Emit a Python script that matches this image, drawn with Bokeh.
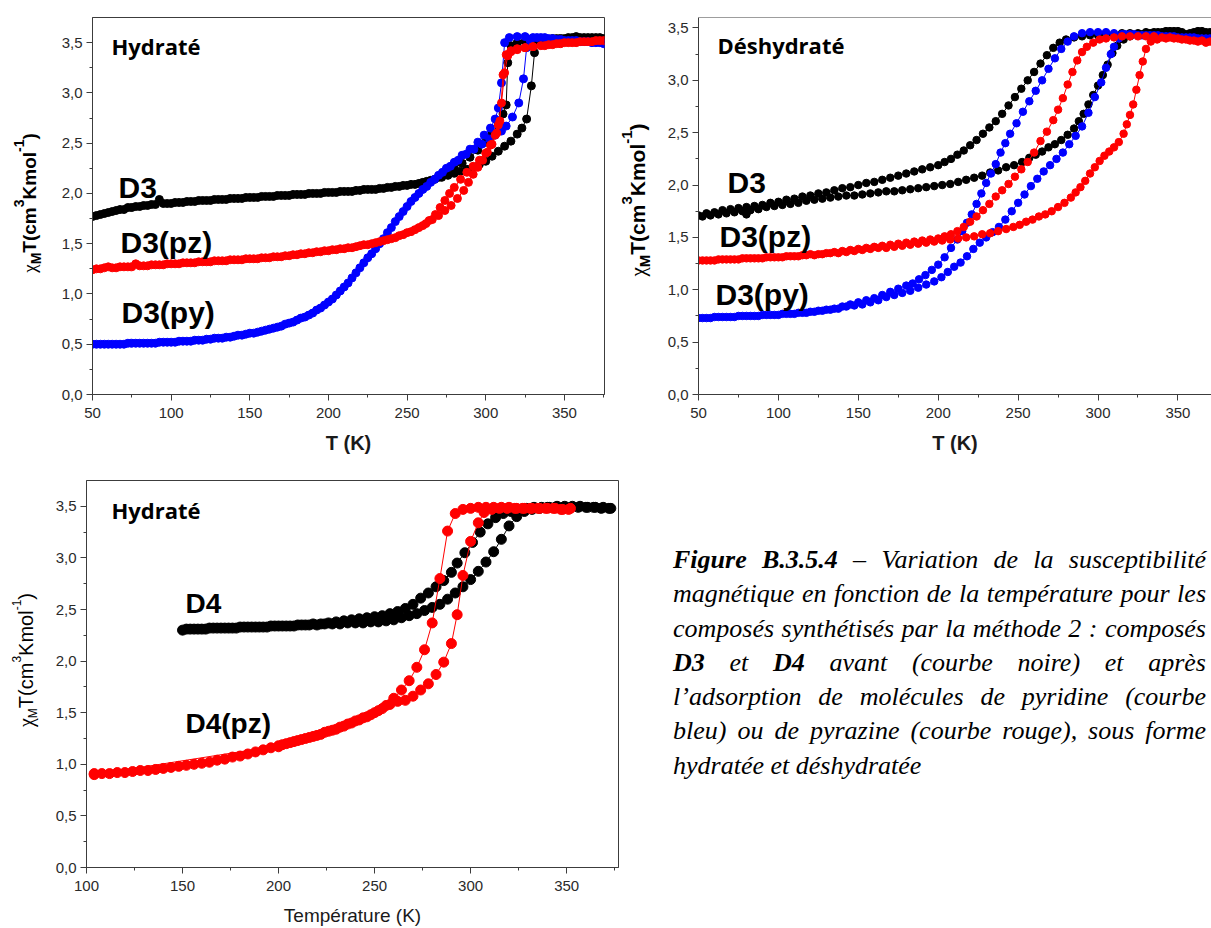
from bokeh.plotting import figure
from bokeh.models import Label, Span, FixedTicker, Div, Range1d
from bokeh.layouts import row, column
from bokeh.embed import file_html
from bokeh.resources import INLINE

# ---------------- data (T in K, chi_M T in cm3 K mol-1) ----------------
x_ticks_top = [50, 100, 150, 200, 250, 300, 350]
x_minor_top = [75, 125, 175, 225, 275, 325, 375]
x_ticks_bottom = [100, 150, 200, 250, 300, 350]
x_minor_bottom = [125, 175, 225, 275, 325, 375]
y_ticks = [0, 0.5, 1, 1.5, 2, 2.5, 3, 3.5]
y_tick_labels = ["0,0", "0,5", "1,0", "1,5", "2,0", "2,5", "3,0", "3,5"]
y_minor = [0.25, 0.75, 1.25, 1.75, 2.25, 2.75, 3.25]

# Panel 1 : D3 hydraté
hyd_black_cool = [(50,1.77),(55,1.79),(60,1.81),(65,1.83),(70,1.84),(75,1.86),(80,1.87),(85,1.88),(90,1.89),(95,1.90),
    (100,1.90),(105,1.91),(110,1.92),(115,1.92),(120,1.93),(125,1.93),(130,1.94),(135,1.94),(140,1.95),(145,1.95),
    (150,1.96),(155,1.96),(160,1.97),(165,1.97),(170,1.98),(175,1.98),(180,1.99),(185,1.99),(190,2.00),(195,2.00),
    (200,2.01),(205,2.01),(210,2.02),(215,2.02),(220,2.03),(225,2.04),(230,2.04),(235,2.05),(240,2.06),(245,2.07),
    (250,2.08),(255,2.09),(260,2.11),(265,2.13),(270,2.16),(275,2.20),(280,2.25),(285,2.30),(290,2.36),(295,2.43),
    (300,2.51),(304,2.59),(308,2.69),(311,2.79),(313,2.88),(314,3.30),(316,3.47),(320,3.50),(325,3.51),(330,3.52),
    (335,3.53),(340,3.53),(345,3.54),(350,3.54),(355,3.55),(360,3.55),(365,3.55),(370,3.55),(375,3.54)]
hyd_black_heat = [(52.5,1.78),(57.5,1.80),(62.5,1.82),(67.5,1.84),(72.5,1.86),(77.5,1.87),(82.5,1.88),(87.5,1.89),(92.5,1.94),(97.5,1.90),
    (102.5,1.91),(107.5,1.91),(112.5,1.92),(117.5,1.93),(122.5,1.93),(127.5,1.94),(132.5,1.94),(137.5,1.95),(142.5,1.95),(147.5,1.96),
    (152.5,1.96),(157.5,1.97),(162.5,1.97),(167.5,1.98),(172.5,1.98),(177.5,1.99),(182.5,1.99),(187.5,2.00),(192.5,2.00),(197.5,2.01),
    (202.5,2.01),(207.5,2.02),(212.5,2.02),(217.5,2.03),(222.5,2.04),(227.5,2.04),(232.5,2.05),(237.5,2.06),(242.5,2.07),(247.5,2.08),
    (252.5,2.09),(257.5,2.10),(262.5,2.12),(267.5,2.14),(272,2.16),(276,2.18),(280,2.20),(284,2.22),(288,2.24),(292,2.26),
    (296,2.29),(300,2.32),(304,2.37),(308,2.42),(312,2.47),(316,2.52),(320,2.59),(323,2.65),(326,2.74),(329,3.07),
    (331,3.40),(333,3.50),(337.5,3.53),(342.5,3.54),(347.5,3.54),(352.5,3.55),(357.5,3.56),(362.5,3.55),(367.5,3.55),(372.5,3.55)]
hyd_blue_cool = [(50,0.50),(55,0.50),(60,0.50),(65,0.50),(70,0.50),(75,0.51),(80,0.51),(85,0.51),(90,0.51),(95,0.52),
    (100,0.52),(105,0.53),(110,0.53),(115,0.54),(120,0.54),(125,0.55),(130,0.56),(135,0.57),(140,0.58),(145,0.59),
    (150,0.61),(155,0.62),(160,0.64),(165,0.66),(170,0.68),(175,0.71),(180,0.74),(185,0.77),(190,0.81),(195,0.86),
    (200,0.92),(205,0.99),(210,1.07),(215,1.16),(220,1.26),(225,1.36),(230,1.45),(235,1.55),(240,1.66),(245,1.77),
    (250,1.87),(255,1.96),(260,2.04),(265,2.11),(270,2.18),(275,2.25),(280,2.31),(285,2.38),(290,2.44),(295,2.51),
    (299,2.58),(303,2.65),(306,2.74),(308,2.85),(310,3.10),(312,3.50),(315,3.55),(320,3.56),(325,3.56),(330,3.55),
    (335,3.55),(340,3.54),(345,3.53),(350,3.52),(355,3.52),(360,3.51),(365,3.51),(370,3.50),(375,3.49)]
hyd_blue_heat = [(52.5,0.50),(57.5,0.50),(62.5,0.50),(67.5,0.50),(72.5,0.51),(77.5,0.51),(82.5,0.51),(87.5,0.51),(92.5,0.52),(97.5,0.52),
    (102.5,0.52),(107.5,0.53),(112.5,0.53),(117.5,0.54),(122.5,0.55),(127.5,0.56),(132.5,0.56),(137.5,0.57),(142.5,0.59),(147.5,0.60),
    (152.5,0.61),(157.5,0.63),(162.5,0.65),(167.5,0.67),(172.5,0.70),(177.5,0.72),(182.5,0.76),(187.5,0.79),(192.5,0.84),(197.5,0.89),
    (202.5,0.95),(207.5,1.03),(212.5,1.11),(217.5,1.21),(222.5,1.31),(227.5,1.40),(232.5,1.50),(237.5,1.61),(242.5,1.72),(247.5,1.82),
    (252.5,1.92),(257.5,2.00),(262.5,2.07),(267.5,2.14),(272.5,2.21),(277.5,2.27),(282.5,2.33),(287.5,2.39),(292.5,2.44),(297.5,2.49),
    (302.5,2.54),(306,2.58),(310,2.62),(313,2.67),(317,2.76),(321,2.90),(324,3.14),(326,3.45),(328,3.53),(332.5,3.55),
    (337.5,3.55),(342.5,3.54),(347.5,3.53),(352.5,3.52),(357.5,3.52),(362.5,3.51),(367.5,3.50),(372.5,3.50)]
hyd_red_cool = [(50,1.24),(55,1.25),(60,1.27),(65,1.26),(70,1.27),(75,1.27),(80,1.28),(85,1.28),(90,1.29),(95,1.29),
    (100,1.30),(105,1.30),(110,1.31),(115,1.31),(120,1.32),(125,1.32),(130,1.33),(135,1.33),(140,1.34),(145,1.34),
    (150,1.35),(155,1.35),(160,1.36),(165,1.37),(170,1.37),(175,1.38),(180,1.39),(185,1.40),(190,1.41),(195,1.42),
    (200,1.43),(205,1.44),(210,1.45),(215,1.46),(220,1.48),(225,1.49),(230,1.51),(235,1.53),(240,1.55),(245,1.58),
    (250,1.61),(255,1.64),(260,1.68),(264,1.73),(268,1.79),(271,1.86),(274,1.93),(277,2.00),(280,2.06),(284,2.14),
    (288,2.21),(292,2.27),(296,2.33),(300,2.40),(303,2.48),(306,2.58),(308,2.68),(310,2.90),(312,3.20),(314,3.37),
    (316,3.41),(320,3.43),(325,3.45),(330,3.46),(335,3.47),(340,3.48),(345,3.49),(350,3.50),(355,3.50),(360,3.51),
    (365,3.51),(370,3.52),(375,3.52)]
hyd_red_heat = [(52.5,1.25),(57.5,1.26),(62.5,1.26),(67.5,1.27),(72.5,1.27),(77.5,1.30),(82.5,1.28),(87.5,1.29),(92.5,1.29),(97.5,1.30),
    (102.5,1.30),(107.5,1.31),(112.5,1.31),(117.5,1.32),(122.5,1.32),(127.5,1.33),(132.5,1.33),(137.5,1.34),(142.5,1.34),(147.5,1.35),
    (152.5,1.35),(157.5,1.36),(162.5,1.36),(167.5,1.37),(172.5,1.38),(177.5,1.39),(182.5,1.40),(187.5,1.41),(192.5,1.42),(197.5,1.43),
    (202.5,1.44),(207.5,1.45),(212.5,1.46),(217.5,1.47),(222.5,1.49),(227.5,1.50),(232.5,1.52),(237.5,1.54),(242.5,1.56),(247.5,1.59),
    (252.5,1.62),(257.5,1.66),(262,1.70),(266,1.74),(270,1.78),(274,1.83),(278,1.88),(282,1.95),(286,2.03),(289,2.11),
    (292,2.19),(295,2.26),(298,2.33),(301,2.41),(304,2.49),(307,2.60),(309,2.72),(311,3.18),(313,3.38),(316,3.42),
    (320,3.44),(325,3.45),(330,3.46),(337.5,3.47),(342.5,3.48),(347.5,3.49),(352.5,3.50),(357.5,3.50),(362.5,3.51),(367.5,3.51),
    (372.5,3.52)]

# Panel 2 : D3 déshydraté
deh_black_cool = [(50,1.71),(55,1.73),(60,1.74),(65,1.76),(70,1.77),(75,1.78),(80,1.79),(85,1.80),(90,1.81),(95,1.83),
    (100,1.84),(105,1.86),(110,1.87),(115,1.89),(120,1.90),(125,1.92),(130,1.93),(135,1.95),(140,1.97),(145,1.98),
    (150,2.00),(155,2.02),(160,2.03),(165,2.05),(170,2.07),(175,2.09),(180,2.11),(185,2.13),(190,2.15),(195,2.17),
    (200,2.19),(204,2.22),(208,2.25),(212,2.29),(216,2.33),(220,2.38),(224,2.43),(228,2.49),(232,2.55),(236,2.61),
    (240,2.68),(244,2.76),(248,2.84),(252,2.92),(256,3.00),(260,3.08),(264,3.16),(268,3.24),(272,3.31),(276,3.36),
    (280,3.39),(285,3.41),(290,3.42),(295,3.43),(300,3.43),(305,3.44),(310,3.44),(315,3.45),(320,3.45),(325,3.45),
    (330,3.46),(335,3.46),(340,3.46),(345,3.47),(350,3.47),(355,3.44),(360,3.46),(365,3.47),(370,3.46)]
deh_black_heat = [(52.5,1.70),(57.5,1.71),(62.5,1.72),(67.5,1.73),(72.5,1.74),(77.5,1.75),(80,1.72),(82.5,1.76),(87.5,1.77),(92.5,1.79),(97.5,1.80),
    (102.5,1.81),(107.5,1.82),(112.5,1.83),(117.5,1.85),(122.5,1.86),(127.5,1.87),(132.5,1.88),(137.5,1.89),(142.5,1.90),(147.5,1.90),
    (152.5,1.91),(157.5,1.92),(162.5,1.93),(167.5,1.94),(172.5,1.94),(177.5,1.95),(182.5,1.96),(187.5,1.97),(192.5,1.98),(197.5,1.99),
    (202.5,2.00),(207.5,2.01),(212.5,2.03),(217.5,2.05),(222.5,2.07),(227.5,2.09),(232.5,2.12),(237.5,2.14),(242.5,2.17),(247.5,2.19),
    (252.5,2.22),(257,2.26),(261,2.29),(265,2.32),(269,2.36),(273,2.39),(277,2.43),(281,2.48),(285,2.54),(288,2.61),
    (291,2.68),(294,2.77),(297,2.86),(300,2.95),(303,3.05),(306,3.15),(309,3.26),(312,3.33),(316,3.39),(320,3.42),
    (327.5,3.44),(332.5,3.45),(337.5,3.46),(342.5,3.47),(347.5,3.47),(352.5,3.46),(357.5,3.45),(362.5,3.47),(367.5,3.46)]
deh_blue_cool = [(50,0.73),(55,0.73),(60,0.74),(65,0.74),(70,0.74),(75,0.75),(80,0.75),(85,0.75),(90,0.76),(95,0.76),
    (100,0.76),(105,0.77),(110,0.77),(115,0.78),(120,0.79),(125,0.80),(130,0.81),(135,0.82),(140,0.84),(145,0.86),
    (150,0.88),(155,0.90),(160,0.92),(165,0.95),(170,0.98),(175,1.01),(180,1.04),(184,1.06),(188,1.10),(192,1.14),
    (196,1.19),(200,1.24),(204,1.31),(208,1.40),(212,1.48),(215,1.56),(218,1.64),(221,1.72),(224,1.82),(227,1.92),
    (230,2.02),(233,2.11),(236,2.20),(239,2.31),(242,2.40),(245,2.49),(249,2.59),(253,2.70),(257,2.80),(261,2.90),
    (265,3.00),(269,3.11),(273,3.21),(277,3.30),(281,3.37),(285,3.42),(290,3.45),(295,3.46),(300,3.46),(305,3.46),
    (310,3.45),(315,3.44),(320,3.44),(325,3.43),(330,3.43),(335,3.43),(340,3.42),(345,3.42),(350,3.41),(355,3.41),
    (360,3.41),(365,3.40),(370,3.40)]
deh_blue_heat = [(52.5,0.73),(57.5,0.73),(62.5,0.74),(67.5,0.74),(72.5,0.74),(77.5,0.75),(82.5,0.75),(87.5,0.75),(92.5,0.76),(97.5,0.76),
    (102.5,0.77),(107.5,0.77),(112.5,0.78),(117.5,0.78),(122.5,0.79),(127.5,0.80),(132.5,0.81),(137.5,0.82),(142.5,0.84),(147.5,0.85),
    (152.5,0.86),(157.5,0.88),(162.5,0.90),(167.5,0.93),(172.5,0.95),(177.5,0.97),(182.5,0.99),(187.5,1.02),(192.5,1.05),(197.5,1.08),
    (202,1.12),(206,1.17),(210,1.22),(214,1.26),(218,1.32),(222,1.39),(226,1.45),(230,1.50),(234,1.55),(238,1.60),
    (242,1.67),(246,1.75),(250,1.83),(254,1.91),(258,1.99),(262,2.06),(266,2.13),(270,2.19),(274,2.25),(278,2.31),
    (282,2.39),(286,2.47),(290,2.56),(294,2.69),(298,2.84),(302,2.98),(305,3.12),(308,3.25),(310,3.32),(313,3.40),
    (317,3.44),(322.5,3.44),(327.5,3.43),(332.5,3.43),(337.5,3.43),(342.5,3.42),(347.5,3.42),(352.5,3.41),(357.5,3.41),(362.5,3.40),
    (367.5,3.40)]
deh_red_cool = [(50,1.28),(55,1.28),(60,1.28),(65,1.29),(70,1.29),(75,1.29),(80,1.30),(85,1.30),(90,1.30),(95,1.31),
    (100,1.31),(105,1.32),(110,1.32),(115,1.33),(120,1.34),(125,1.34),(130,1.35),(135,1.36),(140,1.37),(145,1.38),
    (150,1.39),(155,1.40),(160,1.41),(165,1.42),(170,1.43),(175,1.44),(180,1.45),(185,1.46),(190,1.47),(195,1.48),
    (200,1.49),(204,1.51),(208,1.53),(212,1.56),(216,1.60),(220,1.65),(224,1.70),(228,1.76),(232,1.82),(236,1.89),
    (240,1.95),(244,2.01),(248,2.08),(252,2.15),(256,2.22),(260,2.31),(264,2.42),(268,2.51),(272,2.62),(275,2.72),
    (278,2.83),(281,2.96),(284,3.08),(287,3.19),(290,3.27),(293,3.32),(297,3.36),(301,3.39),(305,3.40),(310,3.41),
    (315,3.42),(320,3.42),(325,3.42),(330,3.42),(335,3.42),(340,3.41),(345,3.41),(350,3.40),(355,3.39),(360,3.38),
    (365,3.38),(370,3.37)]
deh_red_heat = [(52.5,1.28),(57.5,1.28),(62.5,1.29),(67.5,1.29),(72.5,1.29),(77.5,1.30),(82.5,1.30),(87.5,1.30),(92.5,1.31),(97.5,1.31),
    (102.5,1.31),(107.5,1.32),(112.5,1.32),(117.5,1.33),(122.5,1.33),(127.5,1.34),(132.5,1.35),(137.5,1.35),(142.5,1.36),(147.5,1.37),
    (152.5,1.38),(157.5,1.39),(162.5,1.40),(167.5,1.40),(172.5,1.41),(177.5,1.42),(182.5,1.43),(187.5,1.44),(192.5,1.45),(197.5,1.46),
    (202.5,1.47),(207.5,1.48),(212.5,1.49),(217.5,1.50),(222.5,1.51),(227.5,1.53),(232.5,1.54),(237.5,1.56),(242.5,1.58),(247,1.60),
    (251,1.62),(255,1.65),(259,1.67),(263,1.70),(267,1.72),(271,1.75),(275,1.79),(279,1.83),(283,1.88),(286,1.93),
    (289,1.98),(292,2.04),(295,2.11),(298,2.17),(301,2.23),(304,2.28),(307,2.32),(310,2.36),(313,2.41),(316,2.49),
    (318,2.58),(320,2.67),(322,2.77),(324,2.91),(326,3.05),(328,3.18),(330,3.30),(333,3.37),(337,3.39),(342.5,3.40),
    (347.5,3.40),(352.5,3.39),(357.5,3.38),(362.5,3.37),(367.5,3.36)]

# Panel 3 : D4 hydraté
d4_black_cool = [(150,2.30),(154,2.31),(158,2.31),(162,2.31),(166,2.32),(170,2.32),(174,2.32),(178,2.32),(182,2.33),(186,2.33),
    (190,2.33),(194,2.33),(198,2.34),(202,2.34),(206,2.34),(210,2.35),(214,2.35),(218,2.36),(222,2.36),(226,2.37),
    (230,2.38),(234,2.39),(238,2.40),(242,2.41),(246,2.42),(250,2.43),(254,2.44),(258,2.46),(262,2.48),(266,2.51),
    (270,2.55),(274,2.61),(278,2.66),(282,2.72),(286,2.78),(290,2.86),(293,2.95),(297,3.05),(301,3.15),(305,3.25),
    (309,3.33),(313,3.39),(317,3.43),(321,3.45),(325,3.47),(329,3.48),(333,3.49),(337,3.49),(341,3.49),(345,3.50),
    (349,3.50),(353,3.50),(357,3.50),(361,3.49),(365,3.49),(369,3.49),(373,3.48)]
d4_black_heat = [(152,2.31),(156,2.31),(160,2.31),(164,2.32),(168,2.32),(172,2.32),(176,2.32),(180,2.33),(184,2.33),(188,2.33),
    (192,2.33),(196,2.34),(200,2.34),(204,2.34),(208,2.34),(212,2.35),(216,2.35),(220,2.35),(224,2.36),(228,2.36),
    (232,2.36),(236,2.37),(240,2.37),(244,2.37),(248,2.38),(252,2.38),(256,2.39),(260,2.40),(264,2.42),(268,2.44),
    (272,2.46),(276,2.49),(280,2.52),(284,2.55),(288,2.60),(292,2.66),(296,2.72),(300,2.79),(304,2.87),(308,2.96),
    (312,3.06),(316,3.18),(320,3.31),(324,3.40),(328,3.45),(332,3.47),(336,3.48),(340,3.49),(344,3.49),(348,3.49),
    (352,3.49),(356,3.49),(360,3.49),(364,3.49),(368,3.48),(372,3.48)]
d4_red_cool = [(104,0.90),(200,1.18),(204,1.20),(208,1.22),(212,1.24),(216,1.26),(220,1.28),(224,1.31),(228,1.33),(232,1.36),
    (236,1.39),(240,1.42),(244,1.45),(248,1.48),(252,1.52),(256,1.57),(260,1.64),(264,1.72),(268,1.81),(272,1.94),
    (276,2.11),(280,2.37),(284,2.80),(288,3.26),(292,3.43),(296,3.47),(300,3.48),(304,3.49),(308,3.49),(312,3.49),
    (316,3.49),(320,3.49),(324,3.48),(328,3.48),(332,3.48),(336,3.48),(340,3.48),(344,3.48),(348,3.47),(352,3.48)]
d4_red_heat = [(104,0.91),(108,0.91),(112,0.91),(116,0.92),(120,0.92),(124,0.93),(128,0.94),(132,0.94),(136,0.95),(140,0.96),
    (144,0.97),(148,0.98),(152,0.99),(156,1.00),(160,1.01),(164,1.02),(168,1.04),(172,1.05),(176,1.07),(180,1.08),
    (184,1.10),(188,1.12),(192,1.14),(196,1.16),(200,1.17),(202,1.19),(206,1.21),(210,1.23),(214,1.25),(218,1.27),
    (222,1.29),(226,1.32),(230,1.34),(234,1.37),(238,1.40),(242,1.43),(246,1.46),(250,1.50),(254,1.54),(258,1.58),
    (262,1.61),(266,1.62),(270,1.66),(274,1.72),(278,1.78),(282,1.87),(286,1.99),(290,2.17),(293,2.45),(296,2.83),
    (300,3.16),(304,3.34),(307,3.44),(311,3.47),(315,3.48),(319,3.48),(323,3.48),(327,3.48),(331,3.48),(335,3.48),
    (339,3.48),(343,3.48),(347,3.47),(351,3.47)]

# ---------------- styling helpers ----------------
BLACK, RED, BLUE = "#000000", "#ff0000", "#0000ff"
AXC = "#3c3c3c"


def panel(w, h, xr, yr, bl, br, bt, bb, xt, xm, xlabel, xlabel_size, xlabel_style, outline=True):
    p = figure(width=w, height=h, x_range=Range1d(*xr), y_range=Range1d(*yr), title=None,
               output_backend="svg", toolbar_location=None,
               min_border_left=bl, min_border_right=br, min_border_top=bt, min_border_bottom=bb)
    p.xgrid.visible = False
    p.ygrid.visible = False
    p.background_fill_color = "white"
    p.border_fill_color = "white"
    p.outline_line_color = AXC if outline else None
    p.outline_line_width = 1
    for ax in (p.xaxis[0], p.yaxis[0]):
        ax.axis_line_color = AXC
        ax.major_tick_line_color = AXC
        ax.minor_tick_line_color = AXC
        ax.major_tick_out = 6
        ax.major_tick_in = 0
        ax.minor_tick_out = 3
        ax.minor_tick_in = 0
        ax.major_label_text_font = "Liberation Sans"
        ax.major_label_text_font_size = "15px"
        ax.major_label_text_color = "#2a2a2a"
    p.xaxis.major_label_standoff = 7
    p.yaxis.major_label_standoff = 4
    p.xaxis.ticker = FixedTicker(ticks=xt, minor_ticks=xm)
    p.yaxis.ticker = FixedTicker(ticks=y_ticks, minor_ticks=y_minor)
    p.yaxis.major_label_overrides = dict(zip(y_ticks, y_tick_labels))
    p.xaxis.axis_label = xlabel
    p.xaxis.axis_label_text_font = "Liberation Sans"
    p.xaxis.axis_label_text_font_size = f"{xlabel_size}px"
    p.xaxis.axis_label_text_font_style = xlabel_style
    p.xaxis.axis_label_text_color = "#1a1a1a"
    p.xaxis.axis_label_standoff = 11
    return p


def series(p, pts, color, size):
    xs = [a for a, b in pts]
    ys = [b for a, b in pts]
    p.line(xs, ys, line_color=color, line_width=1)
    p.scatter(xs, ys, marker="circle", size=size, fill_color=color, line_color=color)


def clabel(p, org, px, py, text, size, font="Liberation Sans", style="bold"):
    # py is the wanted text baseline (page px); anchor on the text middle
    p.add_layout(Label(x=px - org[0], y=py - 0.35 * size - org[1], x_units="canvas", y_units="canvas",
                       text=text, text_font=font, text_font_size=f"{size}px",
                       text_font_style=style, text_align="left", text_baseline="middle",
                       text_color="#000000"))


def ylabel_div(width, height, base_x, center_y, main, small, sup, sub, bold):
    """HTML strip holding the rotated y-axis title chi_M T(cm3 K mol-1)."""
    lh = round(main * 1.3)
    b = (lh - 1.117 * main) / 2 + 0.905 * main
    cx = base_x + lh / 2 - b
    weight = "bold" if bold else "normal"
    inner = (f'<span style="font-family:\'Liberation Serif\',serif;font-weight:normal;">χ</span>'
             f'<span style="font-size:{small}px;position:relative;top:{sub}px;">M</span>'
             f'T(cm<span style="font-size:{small}px;position:relative;top:-{sup}px;">3</span>'
             f'Kmol<span style="font-size:{small}px;position:relative;top:-{sup}px;">-1</span>)')
    html = (f'<div style="position:relative;width:{width}px;height:{height}px;margin:0;padding:0;">'
            f'<div style="position:absolute;left:{cx:.1f}px;top:{center_y}px;'
            f'transform:translate(-50%,-50%) rotate(-90deg);white-space:nowrap;'
            f'font-family:\'Liberation Sans\',Arial,sans-serif;font-size:{main}px;font-weight:{weight};'
            f'line-height:{lh}px;color:#000;">{inner}</div></div>')
    return Div(text=html, width=width, height=height, margin=0)


# ---------------- panel 1 (page x 50..612, y 0..468) ----------------
o1 = (50, 0)
p1 = panel(562, 468, (50, 375.5), (0, 3.75), 42, 8, 17, 74, x_ticks_top, x_minor_top,
           "T (K)", 20, "bold")
series(p1, hyd_black_cool, BLACK, 8)
series(p1, hyd_black_heat, BLACK, 8)
series(p1, hyd_blue_cool, BLUE, 8)
series(p1, hyd_blue_heat, BLUE, 8)
series(p1, hyd_red_cool, RED, 8)
series(p1, hyd_red_heat, RED, 8)
clabel(p1, o1, 111, 53, "Hydraté", 22, font="Open Sans")
clabel(p1, o1, 118, 197, "D3", 30)
clabel(p1, o1, 120, 252, "D3(pz)", 30)
clabel(p1, o1, 121, 322, "D3(py)", 30)
y1 = ylabel_div(50, 468, 37, 203, 19, 14, 12, 5, True)

# ---------------- panel 2 (page x 660..1211, y 0..468) ----------------
o2 = (660, 0)
p2 = panel(551, 468, (50, 371), (0, 3.6), 38, 0, 14, 69, x_ticks_top, x_minor_top,
           "T (K)", 20, "bold", outline=False)
p2.add_layout(Span(location=3.6, dimension="width", line_color=AXC, line_width=1))
series(p2, deh_black_cool, BLACK, 7.5)
series(p2, deh_black_heat, BLACK, 7.5)
series(p2, deh_blue_cool, BLUE, 7.5)
series(p2, deh_blue_heat, BLUE, 7.5)
series(p2, deh_red_cool, RED, 7.5)
series(p2, deh_red_heat, RED, 7.5)
clabel(p2, o2, 717, 52, "Déshydraté", 22, font="Open Sans")
clabel(p2, o2, 727, 192, "D3", 30)
clabel(p2, o2, 719, 246, "D3(pz)", 30)
clabel(p2, o2, 715, 304, "D3(py)", 30)
y2 = ylabel_div(48, 468, 33, 200, 21, 15, 13, 5, True)

# ---------------- panel 3 (page x 52..638, y 468..928) ----------------
o3 = (52, 468)
p3 = panel(586, 460, (100, 377), (0, 3.75), 34, 20, 12, 59, x_ticks_bottom, x_minor_bottom,
           "Température (K)", 19, "normal")
series(p3, d4_black_cool, BLACK, 10)
series(p3, d4_black_heat, BLACK, 10)
series(p3, d4_red_cool, RED, 10)
series(p3, d4_red_heat, RED, 10)
clabel(p3, o3, 111, 517, "Hydraté", 22, font="Open Sans")
clabel(p3, o3, 185, 613, "D4", 28)
clabel(p3, o3, 185, 733, "D4(pz)", 28)
y3 = ylabel_div(52, 460, 34, 192, 20, 12, 12, 4, False)

# ---------------- caption ----------------
caption_lines = [
    "<b>Figure B.3.5.4</b> – Variation de la susceptibilité",
    "magnétique en fonction de la température pour les",
    "composés synthétisés par la méthode 2 : composés",
    "<b>D3</b> et <b>D4</b> avant (courbe noire) et après",
    "l’adsorption de molécules de pyridine (courbe",
    "bleu) ou de pyrazine (courbe rouge), sous forme",
    "hydratée et déshydratée",
]
inner = "".join(
    f'<div style="width:533px;text-align:justify;text-align-last:justify;">{t}</div>'
    for t in caption_lines[:-1]
) + f'<div style="width:533px;text-align:left;">{caption_lines[-1]}</div>'
html = ('<div style="margin:0;padding:75px 0 0 35px;font-family:\'Liberation Serif\',\'Times New Roman\',serif;'
        'font-style:italic;font-size:26px;line-height:34.3px;color:#000;">' + inner + '</div>')
cap = Div(text=html, width=573, height=460, margin=0, styles={"overflow": "hidden"})

layout = column(row(y1, p1, y2, p2), row(y3, p3, cap))
open("out.html", "w").write(file_html(layout, INLINE))
